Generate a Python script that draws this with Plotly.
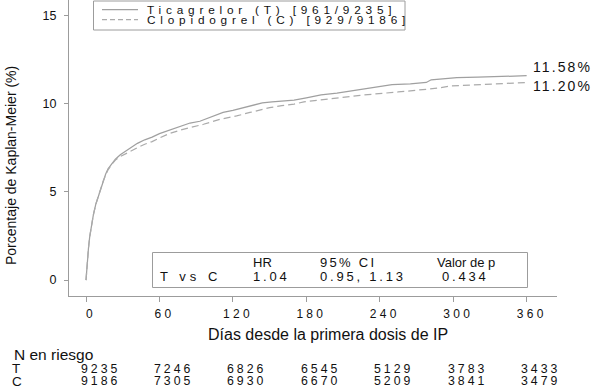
import plotly.graph_objects as go

# ---------------- data ----------------
days_T = [0, 1, 2, 3, 4, 5, 6, 8, 10, 12, 14, 16, 18, 21, 24, 28, 32, 36, 42, 48,
          54, 60, 68, 77, 85, 93, 100, 112, 120, 129, 137, 144, 152, 160, 170, 180,
          192, 205, 216, 225, 235, 245, 250, 265, 278, 282, 295, 303, 320, 335, 345,
          350, 360]
pct_T = [0, 1.1, 1.8, 2.45, 2.95, 3.35, 3.7, 4.3, 4.75, 5.2, 5.6, 6.0, 6.3, 6.6, 6.85,
         7.1, 7.3, 7.48, 7.75, 7.95, 8.1, 8.3, 8.5, 8.7, 8.9, 9.0, 9.2, 9.5, 9.62, 9.78,
         9.92, 10.04, 10.1, 10.14, 10.2, 10.33, 10.5, 10.6, 10.72, 10.8, 10.9, 11.0,
         11.08, 11.12, 11.2, 11.35, 11.42, 11.47, 11.5, 11.52, 11.54, 11.57, 11.58]

days_C = [0, 1, 2, 3, 4, 5, 6, 8, 10, 12, 14, 16, 18, 21, 24, 28, 32, 36, 42, 48,
          54, 60, 68, 77, 85, 96, 110, 123, 134, 150, 160, 170, 178, 192, 205, 216,
          224, 235, 243, 255, 265, 275, 285, 290, 298, 310, 320, 335, 347, 360]
pct_C = [0, 1.1, 1.8, 2.45, 2.95, 3.35, 3.7, 4.3, 4.75, 5.2, 5.6, 5.95, 6.25, 6.55, 6.8,
         7.0, 7.15, 7.3, 7.5, 7.7, 7.85, 8.05, 8.3, 8.5, 8.64, 8.83, 9.12, 9.3, 9.5,
         9.77, 9.88, 9.97, 10.1, 10.2, 10.28, 10.4, 10.47, 10.55, 10.6, 10.66, 10.72,
         10.8, 10.85, 10.9, 11.0, 11.04, 11.07, 11.12, 11.17, 11.2]

series_names = ["Ticagrelor (T) [961/9235]", "Clopidogrel (C) [929/9186]"]
end_labels = ["11.58%", "11.20%"]

x_ticks = [0, 60, 120, 180, 240, 300, 360]
y_ticks = [0, 5, 10, 15]

risk_groups = ["T", "C"]
risk_T = [9235, 7246, 6826, 6545, 5129, 3783, 3433]
risk_C = [9186, 7305, 6930, 6670, 5209, 3841, 3479]

stats_header = ["HR", "95% CI", "Valor de p"]
stats_row_label = "T vs C"
stats_values = ["1.04", "0.95, 1.13", "0.434"]

# ---------------- layout helpers ----------------
W, H = 600, 388
L, R, T, B = 69, 43, 0, 92
PW, PH = W - L - R, H - T - B
FONT = "Liberation Sans, Arial, Helvetica, sans-serif"
TXT = "#111111"
GRID = "#9c9c9c"
COL_T = "#a0a0a0"
COL_C = "#ababab"


def px(x):
    return (x - L) / PW


def py(y):
    return (H - B - y) / PH


def sp(text, ls):
    return f'<span style="letter-spacing:{ls}px">{text}</span>'


fig = go.Figure()
fig.add_trace(go.Scatter(x=days_T, y=pct_T, mode="lines", name=series_names[0],
                         line=dict(color=COL_T, width=1.25), showlegend=False,
                         hoverinfo="skip"))
fig.add_trace(go.Scatter(x=days_C, y=pct_C, mode="lines", name=series_names[1],
                         line=dict(color=COL_C, width=1.25, dash="7px,4px"),
                         showlegend=False, hoverinfo="skip"))

ann = []
shapes = []

# legend box
shapes.append(dict(type="rect", xref="paper", yref="paper", x0=px(93.5), x1=px(405),
                   y0=py(30), y1=py(1), line=dict(color=GRID, width=1)))
shapes.append(dict(type="line", xref="paper", yref="paper", x0=px(102), x1=px(138),
                   y0=py(9.5), y1=py(9.5), line=dict(color=COL_T, width=1.25)))
shapes.append(dict(type="line", xref="paper", yref="paper", x0=px(102), x1=px(138),
                   y0=py(19.5), y1=py(19.5),
                   line=dict(color=COL_C, width=1.25, dash="5px,3px")))
for name, yy in zip(series_names, [9.5, 20]):
    ann.append(dict(text=sp(name, 4.8), xref="paper", yref="paper", x=px(145), y=py(yy),
                    xanchor="left", yanchor="middle", showarrow=False,
                    font=dict(size=11.8, color=TXT, family=FONT)))

# end labels
for lab, yy in zip(end_labels, [66.7, 86]):
    ann.append(dict(text=sp(lab, 2.1), xref="paper", yref="paper", x=px(531), y=py(yy),
                    xanchor="left", yanchor="middle", showarrow=False,
                    font=dict(size=14, color=TXT, family=FONT)))

# stats box
shapes.append(dict(type="rect", xref="paper", yref="paper", x0=px(152.5), x1=px(527.5),
                   y0=py(287.5), y1=py(252.5), line=dict(color=GRID, width=1)))
hdr_x = [250.5, 318, 435]
val_x = [250.5, 318, 440]
for i, h in enumerate(stats_header):
    txt = sp(h, 2.3) if h == "95% CI" else h
    ann.append(dict(text=txt, xref="paper", yref="paper", x=px(hdr_x[i]), y=py(262.5),
                    xanchor="left", yanchor="middle", showarrow=False,
                    font=dict(size=13, color=TXT, family=FONT)))
ann.append(dict(text=sp(stats_row_label, 4.0), xref="paper", yref="paper", x=px(158),
                y=py(276), xanchor="left", yanchor="middle", showarrow=False,
                font=dict(size=13, color=TXT, family=FONT)))
for i, v in enumerate(stats_values):
    ann.append(dict(text=sp(v, 2.8), xref="paper", yref="paper", x=px(val_x[i]),
                    y=py(276), xanchor="left", yanchor="middle", showarrow=False,
                    font=dict(size=13, color=TXT, family=FONT)))

# axis titles
ann.append(dict(text="Días desde la primera dosis de IP", xref="paper", yref="paper",
                x=px(328), y=py(334), xanchor="center", yanchor="middle",
                showarrow=False, font=dict(size=16, color=TXT, family=FONT)))
ann.append(dict(text="Porcentaje de Kaplan-Meier (%)", xref="paper", yref="paper",
                x=px(11), y=py(166), xanchor="center", yanchor="middle", textangle=-90,
                showarrow=False, font=dict(size=14, color=TXT, family=FONT)))

# number at risk table
ann.append(dict(text="N en riesgo", xref="paper", yref="paper", x=px(12), y=py(354),
                xanchor="left", yanchor="middle", showarrow=False,
                font=dict(size=15.5, color=TXT, family=FONT)))
for g, vals, yy in zip(risk_groups, [risk_T, risk_C], [368.5, 381]):
    ann.append(dict(text=g, xref="paper", yref="paper", x=px(10), y=py(yy),
                    xanchor="left", yanchor="middle", showarrow=False,
                    font=dict(size=13.5, color=TXT, family=FONT)))
    for d, v in zip(x_ticks, vals):
        ann.append(dict(text=sp(str(v), 3.0), xref="x", yref="paper", x=d, y=py(yy),
                        xanchor="center", yanchor="middle", xshift=14, showarrow=False,
                        font=dict(size=12.3, color=TXT, family=FONT)))

fig.update_layout(
    width=W, height=H,
    margin=dict(l=L, r=R, t=T, b=B),
    paper_bgcolor="white", plot_bgcolor="white",
    font=dict(family=FONT, color=TXT),
    annotations=ann, shapes=shapes,
    showlegend=False,
    xaxis=dict(range=[-13.9, 384.8], tickvals=x_ticks,
               ticktext=[sp(str(t), 3.3) for t in x_ticks],
               showgrid=False, zeroline=False, showline=True, linecolor=GRID,
               linewidth=1, ticks="outside", ticklen=5, tickcolor=GRID,
               tickfont=dict(size=12, color=TXT, family=FONT), ticklabelshift=5,
               ticklabelstandoff=2),
    yaxis=dict(range=[-0.9, 15.87], tickvals=y_ticks,
               ticktext=[str(t) for t in y_ticks],
               showgrid=False, zeroline=False, showline=True, linecolor=GRID,
               linewidth=1, ticks="outside", ticklen=4, tickcolor=GRID,
               tickfont=dict(size=12.5, color=TXT, family=FONT), ticklabelstandoff=5),
)

fig.write_html("out.html", config={"displayModeBar": False},
               post_script="document.body.style.margin='0';document.body.style.padding='0';")
